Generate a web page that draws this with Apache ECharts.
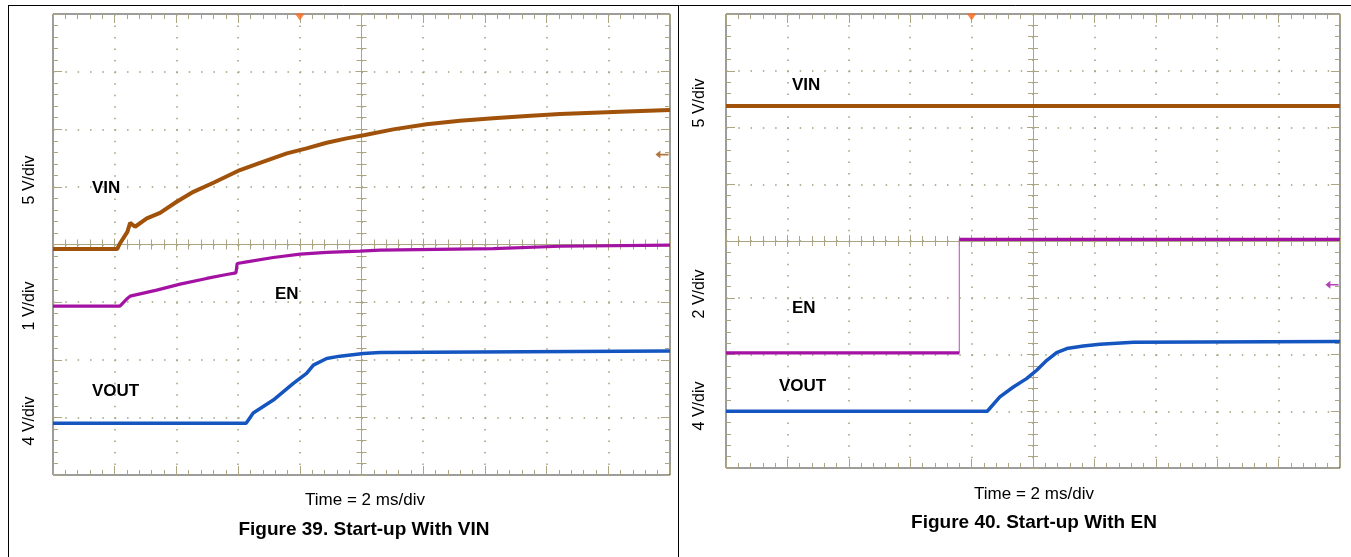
<!DOCTYPE html>
<html>
<head>
<meta charset="utf-8">
<script src="https://cdn.jsdelivr.net/npm/echarts@6/dist/echarts.min.js"></script>
<style>
html,body{margin:0;padding:0;background:#fff;}
#chart{width:1351px;height:557px;}
</style>
</head>
<body>
<div id="chart"></div>
<script>
// ---------------- DATA (time in ms, 2 ms/div, 10 div; voltages in V) ----------------
const timeRangeMs = [0, 20];

// Figure 39. Start-up With VIN
const fig39Channels = ['VIN', 'EN', 'VOUT'];
const fig39ScaleLabels = ['5 V/div', '1 V/div', '4 V/div'];
const fig39VoltsPerDiv = [5, 1, 4];
const fig39VinTime  = [0, 2.08, 2.17, 2.41, 2.50, 2.66, 3.04, 3.47, 4.01, 4.55, 5.20, 6.06, 6.71, 7.58, 8.22, 8.87, 9.52, 10.11, 11.03, 12.11, 13.19, 14.27, 15.36, 16.44, 17.52, 18.60, 20];
const fig39VinVolts = [0, 0, 0.49, 1.50, 2.28, 1.94, 2.66, 3.15, 4.11, 4.97, 5.76, 6.86, 7.49, 8.31, 8.74, 9.23, 9.61, 9.90, 10.39, 10.83, 11.14, 11.35, 11.55, 11.72, 11.84, 11.95, 12.07];
const fig39EnTime   = [0, 2.17, 2.41, 2.50, 3.36, 4.12, 4.98, 5.63, 5.93, 5.97, 6.28, 7.14, 8.01, 8.87, 9.95, 10.60, 14.27, 16.44, 20];
const fig39EnVolts  = [0, 0, 0.134, 0.174, 0.278, 0.382, 0.481, 0.550, 0.578, 0.741, 0.769, 0.845, 0.903, 0.932, 0.955, 0.972, 0.997, 1.04, 1.06];
const fig39VoutTime = [0, 6.26, 6.49, 7.14, 7.79, 8.22, 8.44, 8.87, 9.30, 10.06, 10.60, 20];
const fig39VoutVolts= [0, 0, 0.71, 1.60, 2.76, 3.45, 4.03, 4.49, 4.65, 4.84, 4.91, 5.0];
const fig39TriggerTime = 8;        // ms
const fig39TriggerLevel = 8.2;     // V on VIN
const fig39Time = 'Time = 2 ms/div';
const fig39Title = 'Figure 39. Start-up With VIN';

// Figure 40. Start-up With EN
const fig40Channels = ['VIN', 'EN', 'VOUT'];
const fig40ScaleLabels = ['5 V/div', '2 V/div', '4 V/div'];
const fig40VoltsPerDiv = [5, 2, 4];
const fig40VinTime  = [0, 20];
const fig40VinVolts = [11.9, 11.9];
const fig40EnTime   = [0, 7.60, 7.60, 20];
const fig40EnVolts  = [0, 0, 4.0, 4.0];
const fig40VoutTime = [0, 8.51, 8.92, 9.36, 9.79, 10.12, 10.45, 10.77, 11.10, 11.64, 12.18, 13.27, 15.44, 20];
const fig40VoutVolts= [0, 0, 1.01, 1.71, 2.30, 2.89, 3.59, 4.14, 4.42, 4.60, 4.72, 4.86, 4.88, 4.92];
const fig40TriggerTime = 8;        // ms
const fig40TriggerLevel = 2.4;     // V on EN
const fig40Time = 'Time = 2 ms/div';
const fig40Title = 'Figure 40. Start-up With EN';

// ---------------- STYLE / LAYOUT ----------------
const FONT = "'Liberation Sans', Arial, Helvetica, sans-serif";
const GRID_COLOR = '#aba583';
const DOT_COLOR = '#a39d78';
const FRAME_COLOR = '#3a3a3a';
const CH_COLORS = ['#a0520a', '#a312a3', '#1455c0'];
const CH_WIDTHS = [4, 3.2, 3.5];

const panels = [
  {
    left: 53, top: 14, width: 617, height: 461,
    groundDiv: [3.92, 2.93, 0.90],
    traces: [[fig39VinTime, fig39VinVolts], [fig39EnTime, fig39EnVolts], [fig39VoutTime, fig39VoutVolts]],
    voltsPerDiv: fig39VoltsPerDiv,
    triggerTime: fig39TriggerTime, triggerCh: 0, triggerLevel: fig39TriggerLevel
  },
  {
    left: 726, top: 14, width: 614, height: 454,
    groundDiv: [4.0, 2.03, 1.0],
    traces: [[fig40VinTime, fig40VinVolts], [fig40EnTime, fig40EnVolts], [fig40VoutTime, fig40VoutVolts]],
    voltsPerDiv: fig40VoltsPerDiv,
    triggerTime: fig40TriggerTime, triggerCh: 1, triggerLevel: fig40TriggerLevel
  }
];

const grids = [], xAxes = [], yAxes = [], series = [];

function tickStyle(inside, len, minorLen) {
  return {
    axisTick: { show: true, inside: inside, length: len, lineStyle: { color: GRID_COLOR, width: 1 } },
    minorTick: { show: true, splitNumber: 5, length: minorLen, lineStyle: { color: GRID_COLOR, width: 1 } }
  };
}

function addPanel(p) {
  const gi = grids.length;
  grids.push({ left: p.left, top: p.top, width: p.width, height: p.height, show: true,
    borderColor: FRAME_COLOR, borderWidth: 1, backgroundColor: 'transparent', outerBoundsMode: 'none' });
  const stepX = p.width / 50, stepY = p.height / 40;
  const xb = xAxes.length, yb = yAxes.length;

  const divX = (extra) => Object.assign({
    type: 'value', gridIndex: gi, min: -5, max: 5, interval: 1,
    axisLabel: { show: false }, splitLine: { show: false },
    axisLine: { show: false, onZero: false }
  }, tickStyle(true, 9, 5), extra);
  const divY = (extra) => Object.assign({
    type: 'value', gridIndex: gi, min: -4, max: 4, interval: 1,
    axisLabel: { show: false }, splitLine: { show: false },
    axisLine: { show: false, onZero: false }
  }, tickStyle(true, 9, 5), extra);

  // x axes: 0 bottom frame (with dotted vertical grid), 1 top frame, 2/3 centre line, 4 time
  xAxes.push(divX({ position: 'bottom',
    splitLine: { show: true, lineStyle: { color: DOT_COLOR, width: 1.5, type: [1.5, stepY - 1.5] } } }));
  xAxes.push(divX({ position: 'top' }));
  xAxes.push(divX(Object.assign({ position: 'bottom',
    axisLine: { show: true, onZero: true, onZeroAxisIndex: yb, lineStyle: { color: GRID_COLOR, width: 1 } } },
    tickStyle(true, 6, 5))));
  xAxes.push(divX(Object.assign({ position: 'bottom',
    axisLine: { show: true, onZero: true, onZeroAxisIndex: yb, lineStyle: { color: GRID_COLOR, width: 1 } } },
    tickStyle(false, 6, 5))));
  xAxes.push({ type: 'value', gridIndex: gi, show: false, min: timeRangeMs[0], max: timeRangeMs[1],
    axisLine: { onZero: false } });

  // y axes: 0 left frame (with dotted horizontal grid), 1 right frame, 2/3 centre, 4.. channels
  yAxes.push(divY({ position: 'left',
    splitLine: { show: true, lineStyle: { color: DOT_COLOR, width: 1.5, type: [1.5, stepX - 1.5] } } }));
  yAxes.push(divY({ position: 'right' }));
  yAxes.push(divY(Object.assign({ position: 'left',
    axisLine: { show: true, onZero: true, onZeroAxisIndex: xb, lineStyle: { color: GRID_COLOR, width: 1 } } },
    tickStyle(true, 6, 5))));
  yAxes.push(divY(Object.assign({ position: 'left',
    axisLine: { show: true, onZero: true, onZeroAxisIndex: xb, lineStyle: { color: GRID_COLOR, width: 1 } } },
    tickStyle(false, 6, 5))));
  p.voltsPerDiv.forEach((vpd, k) => {
    const mn = -p.groundDiv[k] * vpd;
    yAxes.push({ type: 'value', gridIndex: gi, show: false, min: mn, max: mn + 8 * vpd,
      axisLine: { onZero: false } });
  });

  p.traces.forEach((tr, k) => {
    const [t, v] = tr;
    const full = t.map((x, i) => [x, v[i]]);
    const broken = [];
    let hasStep = false;
    t.forEach((x, i) => {
      if (i > 0 && x === t[i - 1] && Math.abs(v[i] - v[i - 1]) > 0.5) { broken.push([x, '-']); hasStep = true; }
      broken.push([x, v[i]]);
    });
    if (hasStep) {
      series.push({ type: 'line', xAxisIndex: xb + 4, yAxisIndex: yb + 4 + k, data: full,
        symbol: 'none', animation: false, silent: true, z: 3,
        lineStyle: { color: '#c567c5', width: 1.2 } });
    }
    series.push({ type: 'line', xAxisIndex: xb + 4, yAxisIndex: yb + 4 + k, data: broken,
      symbol: 'none', animation: false, silent: true, z: 4, connectNulls: false,
      lineStyle: { color: CH_COLORS[k], width: CH_WIDTHS[k] } });
  });

  // trigger position marker (top)
  series.push({ type: 'scatter', xAxisIndex: xb + 4, yAxisIndex: yb, data: [[p.triggerTime, 4]],
    symbol: 'triangle', symbolRotate: 180, symbolSize: [10, 7], symbolOffset: [0, 3],
    itemStyle: { color: '#ff6a1a' }, animation: false, silent: true, z: 6, clip: false });
  // trigger level marker (right edge)
  series.push({ type: 'scatter', xAxisIndex: xb + 4, yAxisIndex: yb + 4 + p.triggerCh,
    data: [[timeRangeMs[1], p.triggerLevel]],
    symbol: 'path://M0,5 L6,0 L6,4 L16,4 L16,6 L6,6 L6,10 Z', symbolKeepAspect: false,
    symbolSize: [13, 8], symbolOffset: [-8, 0],
    itemStyle: { color: CH_COLORS[p.triggerCh] }, animation: false, silent: true, z: 6, clip: false });
}
panels.forEach(addPanel);

// ---------------- TEXT ----------------
const graphics = [];
function txt(x, y, text, size, bold, align, rot) {
  graphics.push({
    type: 'text', x: x, y: y, rotation: rot || 0, silent: true, z: 10,
    style: { text: text, fill: '#000', font: (bold ? 'bold ' : '') + size + 'px ' + FONT,
      align: align || 'left', verticalAlign: 'middle', textAlign: align || 'left', textVerticalAlign: 'middle' }
  });
}
// frames of the two figure cells
graphics.push({ type: 'line', silent: true, shape: { x1: 8, y1: 5.5, x2: 1351, y2: 5.5 }, style: { stroke: '#000', lineWidth: 1 } });
graphics.push({ type: 'line', silent: true, shape: { x1: 8.5, y1: 5, x2: 8.5, y2: 557 }, style: { stroke: '#000', lineWidth: 1 } });
graphics.push({ type: 'line', silent: true, shape: { x1: 678.5, y1: 5, x2: 678.5, y2: 557 }, style: { stroke: '#000', lineWidth: 1 } });

// Figure 39 labels
txt(30, 180, fig39ScaleLabels[0], 16, false, 'center', Math.PI / 2);
txt(30, 306, fig39ScaleLabels[1], 16, false, 'center', Math.PI / 2);
txt(30, 421, fig39ScaleLabels[2], 16, false, 'center', Math.PI / 2);
txt(92, 188, fig39Channels[0], 17, true);
txt(275, 294, fig39Channels[1], 17, true);
txt(92, 391, fig39Channels[2], 17, true);
txt(365, 500, fig39Time, 17, false, 'center');
txt(364, 530, fig39Title, 19, true, 'center');

// Figure 40 labels
txt(700, 103, fig40ScaleLabels[0], 16, false, 'center', Math.PI / 2);
txt(700, 294, fig40ScaleLabels[1], 16, false, 'center', Math.PI / 2);
txt(700, 406, fig40ScaleLabels[2], 16, false, 'center', Math.PI / 2);
txt(792, 85, fig40Channels[0], 17, true);
txt(792, 308, fig40Channels[1], 17, true);
txt(779, 386, fig40Channels[2], 17, true);
txt(1034, 494, fig40Time, 17, false, 'center');
txt(1034, 523, fig40Title, 19, true, 'center');

const chart = echarts.init(document.getElementById('chart'), null, { renderer: 'canvas' });
chart.setOption({
  backgroundColor: '#ffffff',
  animation: false,
  grid: grids,
  xAxis: xAxes,
  yAxis: yAxes,
  series: series,
  graphic: { elements: graphics }
});
</script>
</body>
</html>
